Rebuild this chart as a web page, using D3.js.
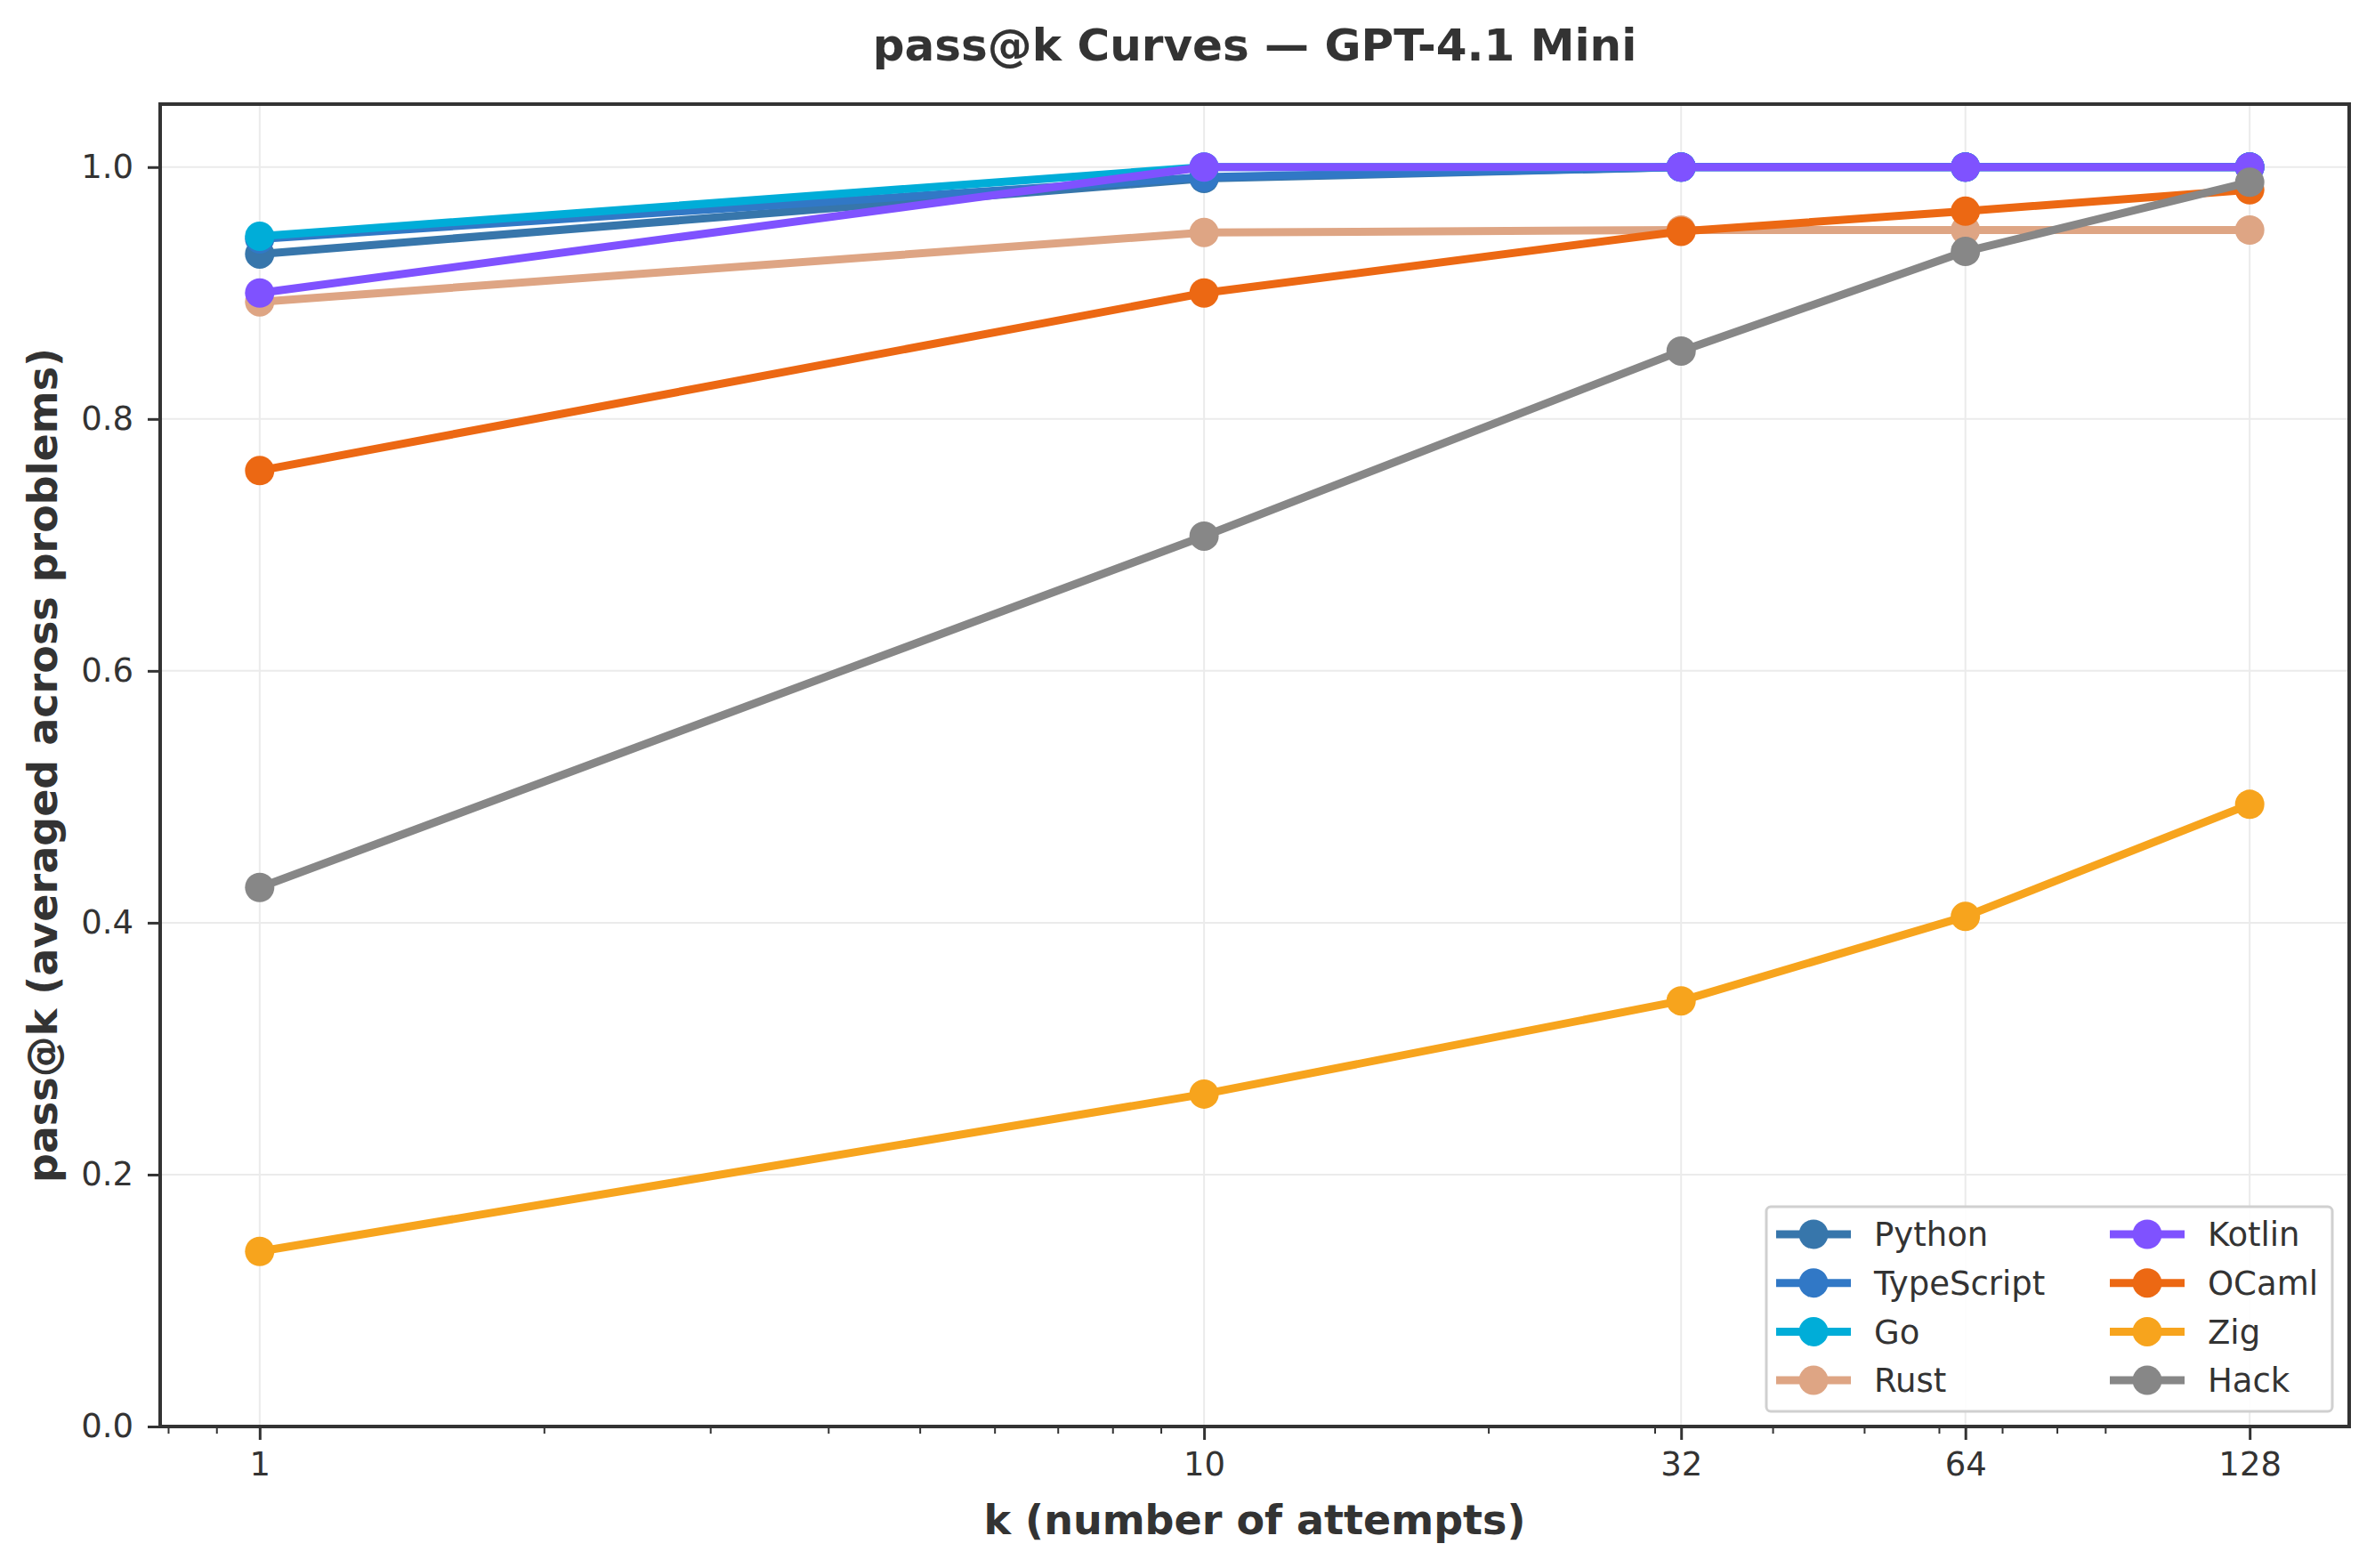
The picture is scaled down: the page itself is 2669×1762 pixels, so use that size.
<!DOCTYPE html>
<html>
<head>
<meta charset="utf-8">
<script src="https://cdn.jsdelivr.net/npm/d3@7"></script>
<style>
  body { margin: 0; background: #fff; }
  text { font-family: "DejaVu Sans", sans-serif; fill: #333333; }
</style>
</head>
<body>
<svg class="passk" width="2669" height="1762"></svg>
<script>
/*Data: attempts on x, pass@k per language on y*/

var kValues = [1, 10, 32, 64, 128];
var yTicks = [0.0, 0.2, 0.4, 0.6, 0.8, 1.0];
var languages = ["Python", "TypeScript", "Go", "Rust", "Kotlin", "OCaml", "Zig", "Hack"];

var pythonVals = [0.931, 0.991, 1.0, 1.0, 1.0];
var typescriptVals = [0.943, 0.992, 1.0, 1.0, 1.0];
var goVals = [0.945, 1.0, 1.0, 1.0, 1.0];
var rustVals = [0.893, 0.948, 0.95, 0.95, 0.95];
var kotlinVals = [0.900, 1.0, 1.0, 1.0, 1.0];
var ocamlVals = [0.759, 0.900, 0.949, 0.965, 0.982];
var zigVals = [0.139, 0.264, 0.338, 0.405, 0.494];
var hackVals = [0.428, 0.707, 0.854, 0.933, 0.988];

var seriesVals = [pythonVals, typescriptVals, goVals, rustVals, kotlinVals, ocamlVals, zigVals, hackVals];
var palette = ["#3776ab", "#3178c6", "#00add8", "#dea584", "#7f52ff", "#ec6813", "#f7a41d", "#878787"];

/*svg, margins, width and height*/

var svg = d3.select(".passk"),
    margin = {top: 117, right: 29, bottom: 159, left: 180},
    width = +svg.attr("width") - margin.left - margin.right,
    height = +svg.attr("height") - margin.top - margin.bottom;

/*log x axis with 5% padding on each side like matplotlib does*/

var logMin = Math.log10(d3.min(kValues)), logMax = Math.log10(d3.max(kValues)),
    pad = (logMax - logMin) * 0.05;

var x = d3.scaleLog().domain([Math.pow(10, logMin - pad), Math.pow(10, logMax + pad)]).range([0, width]),
    y = d3.scaleLinear().domain([0, 1.05]).range([height, 0]);

var g = svg.append("g")
    .attr("transform", "translate(" + margin.left + "," + margin.top + ")");

/*grid lines*/

g.append("g").selectAll("line")
  .data(yTicks)
  .enter().append("line")
    .attr("x1", 0).attr("x2", width)
    .attr("y1", function(d) { return y(d); })
    .attr("y2", function(d) { return y(d); })
    .attr("stroke", "#ebebeb").attr("stroke-width", 2);

g.append("g").selectAll("line")
  .data(kValues)
  .enter().append("line")
    .attr("y1", 0).attr("y2", height)
    .attr("x1", function(d) { return x(d); })
    .attr("x2", function(d) { return x(d); })
    .attr("stroke", "#ebebeb").attr("stroke-width", 2);

/*minor ticks on the log axis: 2..9 of every decade inside the domain*/

var minorTicks = [];
[0.1, 1, 10, 100].forEach(function(dec) {
  for (var m = 2; m <= 9; m++) {
    var v = dec * m;
    if (v >= x.domain()[0] && v <= x.domain()[1]) minorTicks.push(v);
  }
});

var xAxisG = g.append("g")
    .attr("class", "axis axis--x")
    .attr("transform", "translate(0," + height + ")");

xAxisG.call(d3.axisBottom(x).tickValues(minorTicks).tickSize(8).tickFormat(""))
    .call(function(a) { a.select(".domain").remove(); })
    .selectAll("line").attr("stroke", "#333333").attr("stroke-width", 2);

var xMajor = g.append("g")
    .attr("class", "axis axis--x")
    .attr("transform", "translate(0," + height + ")")
    .call(d3.axisBottom(x).tickValues(kValues).tickSize(15).tickPadding(14).tickFormat(d3.format("d")));

xMajor.select(".domain").remove();
xMajor.selectAll("line").attr("stroke", "#333333").attr("stroke-width", 3);
xMajor.selectAll("text").attr("font-size", 37).attr("fill", "#333333");

var yAxisG = g.append("g")
    .attr("class", "axis axis--y")
    .call(d3.axisLeft(y).tickValues(yTicks).tickSize(14).tickPadding(16).tickFormat(d3.format(".1f")));

yAxisG.select(".domain").remove();
yAxisG.selectAll("line").attr("stroke", "#333333").attr("stroke-width", 3);
yAxisG.selectAll("text").attr("font-size", 37).attr("fill", "#333333");

/*the lines with their markers, one group per language*/

var line = d3.line()
    .x(function(d, i) { return x(kValues[i]); })
    .y(function(d) { return y(d); });

var series = g.append("g").selectAll(".series")
  .data(seriesVals)
  .enter().append("g")
    .attr("class", "series");

series.append("path")
    .attr("d", line)
    .attr("fill", "none")
    .attr("stroke", function(d, i) { return palette[i]; })
    .attr("stroke-width", 9)
    .attr("stroke-linejoin", "round");

series.each(function(vals, i) {
  d3.select(this).selectAll("circle")
    .data(vals)
    .enter().append("circle")
      .attr("cx", function(d, j) { return x(kValues[j]); })
      .attr("cy", function(d) { return y(d); })
      .attr("r", 16.5)
      .attr("fill", palette[i]);
});

/*frame around the plot*/

g.append("rect")
    .attr("width", width).attr("height", height)
    .attr("fill", "none").attr("stroke", "#333333").attr("stroke-width", 4);

/*legend: two columns, four rows, bottom right*/

var legend = g.append("g")
    .attr("transform", "translate(" + (1985 - margin.left) + "," + (1356 - margin.top) + ")");

legend.append("rect")
    .attr("width", 636).attr("height", 230)
    .attr("rx", 5)
    .attr("fill", "#ffffff").attr("fill-opacity", 0.9)
    .attr("stroke", "#d0d0d0").attr("stroke-width", 3);

var item = legend.selectAll(".item")
  .data(languages)
  .enter().append("g")
    .attr("class", "item")
    .attr("transform", function(d, i) {
      var col = Math.floor(i / 4), row = i % 4;
      return "translate(" + (11 + col * 375) + "," + (31 + row * 54.7) + ")";
    });

item.append("line")
    .attr("x1", 0).attr("x2", 84)
    .attr("stroke", function(d, i) { return palette[i]; })
    .attr("stroke-width", 9);

item.append("circle")
    .attr("cx", 42).attr("r", 16.5)
    .attr("fill", function(d, i) { return palette[i]; });

item.append("text")
    .attr("x", 110).attr("dy", "0.36em")
    .attr("font-size", 37)
    .text(function(d) { return d; });

/*title and axis labels*/

svg.append("text")
    .attr("x", margin.left + width / 2).attr("y", 68)
    .attr("text-anchor", "middle")
    .attr("font-size", 50).attr("font-weight", "bold")
    .text("pass@k Curves \u2014 GPT-4.1 Mini");

svg.append("text")
    .attr("x", margin.left + width / 2).attr("y", 1724)
    .attr("text-anchor", "middle")
    .attr("font-size", 46).attr("font-weight", "bold")
    .text("k (number of attempts)");

svg.append("text")
    .attr("transform", "translate(64," + (margin.top + height / 2) + ") rotate(-90)")
    .attr("text-anchor", "middle")
    .attr("font-size", 46).attr("font-weight", "bold")
    .text("pass@k (averaged across problems)");
</script>
</body>
</html>
